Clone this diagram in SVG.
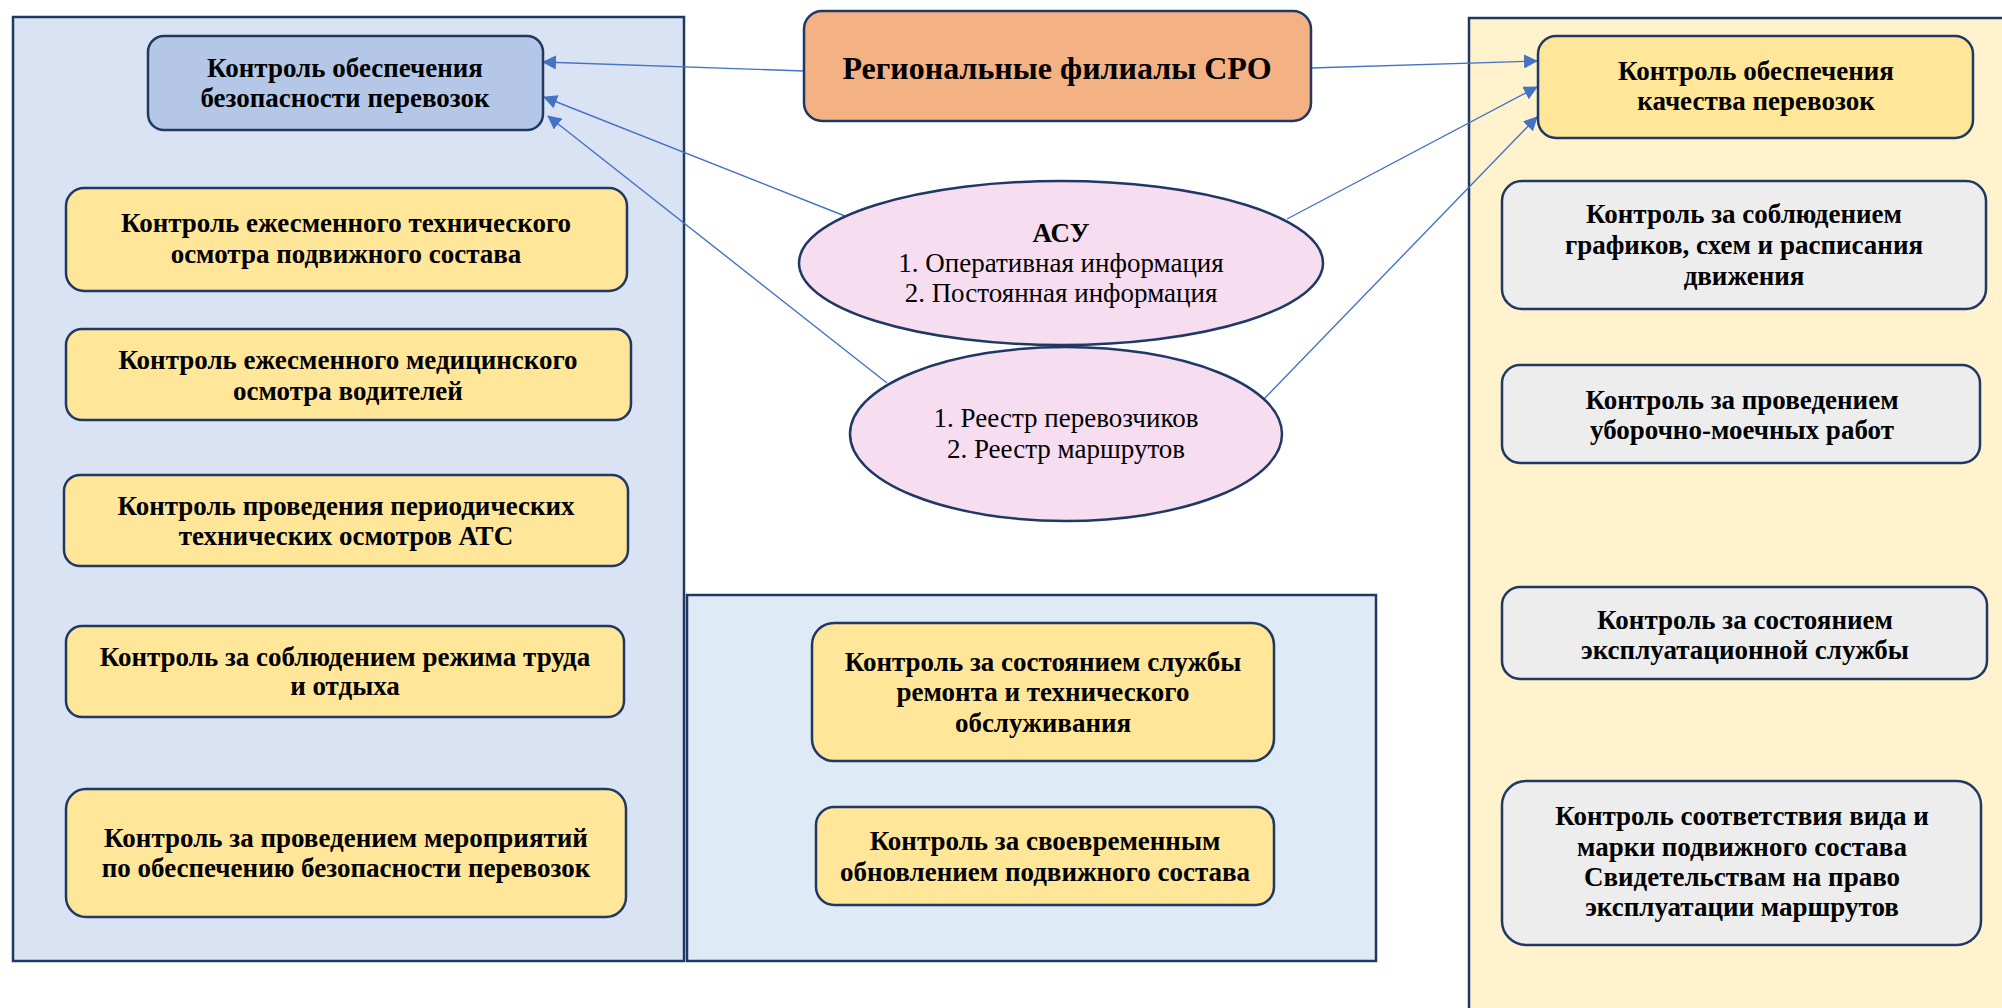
<svg xmlns="http://www.w3.org/2000/svg" width="2002" height="1008" viewBox="0 0 2002 1008">
  <style>
    .panel { stroke: #1F3864; stroke-width: 2.5; }
    .box { stroke: #1F3864; stroke-width: 2.5; }
    .yellow { fill: #FFE699; }
    .gray { fill: #EDEDED; }
    .blue { fill: #B4C7E7; }
    .orange { fill: #F4B183; }
    .oval { fill: #F7DDF0; stroke: #1F3864; stroke-width: 2.5; }
    text { font-family: "Liberation Serif", "Times New Roman", serif; fill: #000; text-anchor: middle; }
    .b { font-weight: bold; font-size: 27px; }
    .r { font-size: 27px; }
    .title { font-weight: bold; font-size: 32px; }
    .link { stroke: #4472C4; stroke-width: 1.4; fill: none; marker-end: url(#arrow); }
  </style>
  <defs>
    <marker id="arrow" markerUnits="userSpaceOnUse" markerWidth="14" markerHeight="14" viewBox="0 0 14 14" refX="13" refY="7" orient="auto">
      <path d="M0,0 L14,7 L0,14 z" fill="#4472C4"/>
    </marker>
  </defs>

  <rect width="2002" height="1008" fill="#FFFFFF"/>

  <!-- background panels -->
  <g id="panels">
    <rect class="panel" x="13" y="17" width="671" height="944" fill="#DAE3F3"/>
    <rect class="panel" x="687" y="595" width="689" height="366" fill="#DEEAF6"/>
    <rect class="panel" x="1469" y="18" width="560" height="1010" fill="#FFF2CC"/>
  </g>

  <!-- connectors -->
  <g id="connectors">
    <line class="link" x1="804" y1="71" x2="543" y2="62"/>
    <line class="link" x1="1311" y1="68" x2="1537" y2="61"/>
    <line class="link" x1="850" y1="218" x2="544" y2="97"/>
    <line class="link" x1="887" y1="383" x2="548" y2="116"/>
    <line class="link" x1="1287" y1="219" x2="1537" y2="87"/>
    <line class="link" x1="1262" y1="401" x2="1537" y2="117"/>
  </g>

  <!-- top centre -->
  <g id="regional">
    <rect class="box orange" x="804" y="11" width="507" height="110" rx="18"/>
    <text class="title" x="1057" y="79">Региональные филиалы СРО</text>
  </g>

  <g id="asu">
    <ellipse class="oval" cx="1061" cy="263" rx="262" ry="82"/>
    <text class="b" x="1061" y="242">АСУ</text>
    <text class="r" x="1061" y="272">1. Оперативная информация</text>
    <text class="r" x="1061" y="302">2. Постоянная информация</text>
  </g>

  <g id="registry">
    <ellipse class="oval" cx="1066" cy="434" rx="216" ry="87"/>
    <text class="r" x="1066" y="427">1. Реестр перевозчиков</text>
    <text class="r" x="1066" y="458">2. Реестр маршрутов</text>
  </g>

  <!-- safety column -->
  <g id="safety">
    <rect class="box blue" x="148" y="36" width="395" height="94" rx="16"/>
    <text class="b" x="345" y="77">Контроль обеспечения</text>
    <text class="b" x="345" y="107">безопасности перевозок</text>
  </g>

  <g id="tech-check">
    <rect class="box yellow" x="66" y="188" width="561" height="103" rx="18"/>
    <text class="b" x="346" y="232">Контроль ежесменного технического</text>
    <text class="b" x="346" y="263">осмотра подвижного состава</text>
  </g>

  <g id="medical-check">
    <rect class="box yellow" x="66" y="329" width="565" height="91" rx="16"/>
    <text class="b" x="348" y="369">Контроль ежесменного медицинского</text>
    <text class="b" x="348" y="400">осмотра водителей</text>
  </g>

  <g id="periodic-check">
    <rect class="box yellow" x="64" y="475" width="564" height="91" rx="16"/>
    <text class="b" x="346" y="515">Контроль проведения периодических</text>
    <text class="b" x="346" y="545">технических осмотров АТС</text>
  </g>

  <g id="work-rest">
    <rect class="box yellow" x="66" y="626" width="558" height="91" rx="16"/>
    <text class="b" x="345" y="666">Контроль за соблюдением режима труда</text>
    <text class="b" x="345" y="695">и отдыха</text>
  </g>

  <g id="safety-measures">
    <rect class="box yellow" x="66" y="789" width="560" height="128" rx="20"/>
    <text class="b" x="346" y="847">Контроль за проведением мероприятий</text>
    <text class="b" x="346" y="877">по обеспечению безопасности перевозок</text>
  </g>

  <!-- middle column -->
  <g id="repair-service">
    <rect class="box yellow" x="812" y="623" width="462" height="138" rx="22"/>
    <text class="b" x="1043" y="671">Контроль за состоянием службы</text>
    <text class="b" x="1043" y="701">ремонта и технического</text>
    <text class="b" x="1043" y="732">обслуживания</text>
  </g>

  <g id="fleet-renewal">
    <rect class="box yellow" x="816" y="807" width="458" height="98" rx="18"/>
    <text class="b" x="1045" y="850">Контроль за своевременным</text>
    <text class="b" x="1045" y="881">обновлением подвижного состава</text>
  </g>

  <!-- quality column -->
  <g id="quality">
    <rect class="box yellow" x="1538" y="36" width="435" height="102" rx="18"/>
    <text class="b" x="1756" y="80">Контроль обеспечения</text>
    <text class="b" x="1756" y="110">качества перевозок</text>
  </g>

  <g id="schedule">
    <rect class="box gray" x="1502" y="181" width="484" height="128" rx="20"/>
    <text class="b" x="1744" y="223">Контроль за соблюдением</text>
    <text class="b" x="1744" y="254">графиков, схем и расписания</text>
    <text class="b" x="1744" y="285">движения</text>
  </g>

  <g id="cleaning">
    <rect class="box gray" x="1502" y="365" width="478" height="98" rx="18"/>
    <text class="b" x="1742" y="409">Контроль за проведением</text>
    <text class="b" x="1742" y="439">уборочно-моечных работ</text>
  </g>

  <g id="operation-service">
    <rect class="box gray" x="1502" y="587" width="485" height="92" rx="18"/>
    <text class="b" x="1745" y="629">Контроль за состоянием</text>
    <text class="b" x="1745" y="659">эксплуатационной службы</text>
  </g>

  <g id="fleet-conformity">
    <rect class="box gray" x="1502" y="781" width="479" height="164" rx="24"/>
    <text class="b" x="1742" y="825">Контроль соответствия вида и</text>
    <text class="b" x="1742" y="856">марки подвижного состава</text>
    <text class="b" x="1742" y="886">Свидетельствам на право</text>
    <text class="b" x="1742" y="916">эксплуатации маршрутов</text>
  </g>
</svg>
